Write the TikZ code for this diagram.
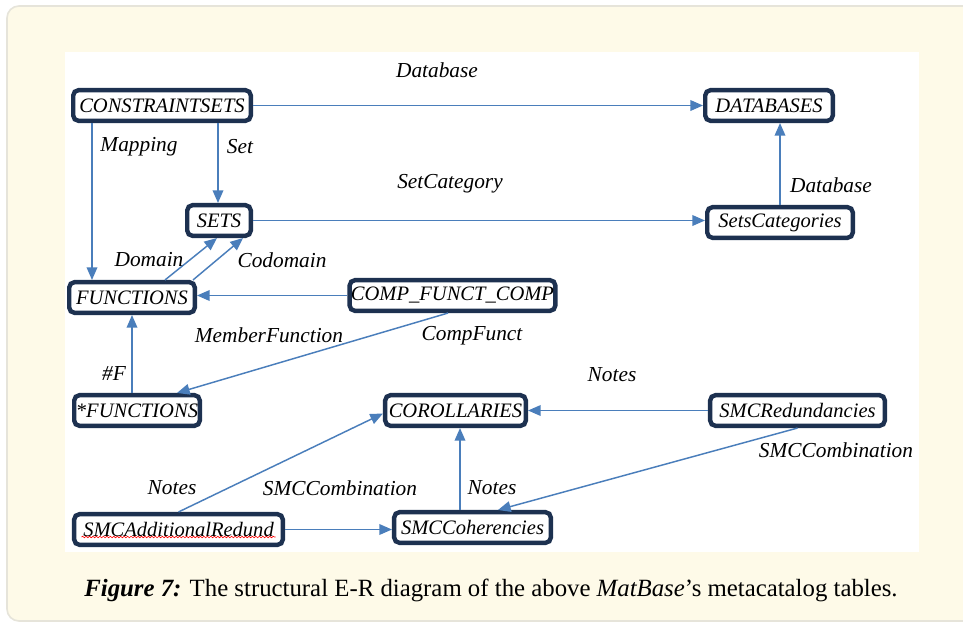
\documentclass[tikz,border=0pt]{standalone}
\usepackage{fontspec}
\setmainfont{Liberation Serif}
\usetikzlibrary{arrows.meta,calc,decorations.pathmorphing}
\definecolor{boxline}{HTML}{1D3150}
\definecolor{arrowblue}{HTML}{4A7EBB}
\definecolor{panel}{HTML}{FEFAE8}
\definecolor{panelborder}{HTML}{E6E4DA}
\tikzset{
  ent/.style={draw=boxline, line width=3.3pt, fill=white, rounded corners=4pt,
    minimum height=23pt, inner sep=1pt, font=\fontsize{15.4}{18}\selectfont\itshape},
  lbl/.style={font=\fontsize{16}{19}\selectfont\itshape, inner sep=0pt},
  arr/.style={draw=arrowblue, line width=1.1pt, -{Triangle[length=9.5pt,width=8pt]}}
}
\begin{document}
\begin{tikzpicture}[x=0.75pt,y=-0.75pt]
\useasboundingbox (0,0) rectangle (963,625);
\fill[white] (0,0) rectangle (963,625);
\draw[draw=panelborder, fill=panel, line width=1.2pt, rounded corners=9pt] (7,6) rectangle (1000,621);
\fill[white] (65,52) rectangle (919,552);

% entities
\node[ent, minimum width=133.2pt] (cs) at (162,105.5) {CONSTRAINTSETS};
\node[ent, minimum width=95.7pt] (db) at (769,105.5) {DATABASES};
\node[ent, minimum width=47.7pt] (sets) at (219,220.5) {SETS};
\node[ent, minimum width=109.2pt] (sc) at (780,222.5) {SetsCategories};
\node[ent, minimum width=94.2pt] (fn) at (132,297.5) {FUNCTIONS};
\node[ent, minimum width=153.5pt] (cfc) at (452.5,295.5) {COMP\_FUNCT\_COMP};
\node[ent, minimum width=94.2pt] (sf) at (137,410.5) {*FUNCTIONS};
\node[ent, minimum width=105.5pt] (cor) at (455.5,410.5) {COROLLARIES};
\node[ent, minimum width=131pt] (red) at (797.5,410.5) {SMCRedundancies};
\node[ent, minimum width=156.5pt] (add) at (178.5,529.5) {SMCAdditionalRedund};
\node[ent, minimum width=117.5pt] (coh) at (472.5,527.5) {SMCCoherencies};

% spell-check squiggle
\draw[red, line width=0.45pt, decorate, decoration={snake, amplitude=0.6pt, segment length=2.6pt}]
  ($(add.center)+(-97,7.5)$) -- ($(add.center)+(97,7.5)$);

% connectors
\draw[arr] (cs.east) -- (db.west);
\draw[arr] ($(cs.south)+(-70,0)$) -- ($(fn.north)+(-40,0)$);
\draw[arr] ($(cs.south)+(56,0)$) -- ($(sets.north)+(-1,0)$);
\draw[arr] (sets.east) -- (sets.east -| sc.west);
\draw[arr] (sc.north) -- (sc.north |- db.south);
\draw[arr] ($(fn.north)+(33,0)$) -- ($(sets.south)+(-2,0)$);
\draw[arr] ($(fn.north)+(61,0)$) -- ($(sets.south)+(24,0)$);
\draw[arr] (cfc.west) -- (cfc.west -| fn.east);
\draw[arr] ($(cfc.south)+(-4.5,0)$) -- ($(sf.north)+(40,0)$);
\draw[arr] (fn.south |- sf.north) -- (fn.south);
\draw[arr] (red.west) -- (cor.east);
\draw[arr] (red.south) -- ($(coh.north)+(25.5,0)$);
\draw[arr] (add.north) -- ($(cor.west)+(0,3)$);
\draw[arr] (add.east) -- (add.east -| coh.west);
\draw[arr] ($(coh.north)+(-12.5,0)$) -- ($(cor.south)+(4.5,0)$);

% labels
\node[lbl] (l1) at (437,70) {Database};
\node[lbl] (l2) at (139,147) {Mapping};
\node[lbl] (l3) at (240,147) {Set};
\node[lbl] (l4) at (450,184) {SetCategory};
\node[lbl] (l5) at (831,185) {Database};
\node[lbl] (l6) at (149,260) {Domain};
\node[lbl] (l7) at (282,260) {Codomain};
\node[lbl] (l8) at (269,335) {MemberFunction};
\node[lbl] (l9) at (472,336) {CompFunct};
\node[lbl] (l10) at (114,374) {\#F};
\node[lbl] (l11) at (612,375) {Notes};
\node[lbl] (l12) at (836,450) {SMCCombination};
\node[lbl] (l13) at (172,488) {Notes};
\node[lbl] (l14) at (340,488) {SMCCombination};
\node[lbl] (l15) at (492,488) {Notes};

% caption
\node[inner sep=0pt, font=\fontsize{18.6}{22}\selectfont] (cap) at (491,590)
  {\textbf{\textit{Figure 7:}} The structural E-R diagram of the above \textit{MatBase}’s metacatalog tables.};
\end{tikzpicture}
\end{document}
